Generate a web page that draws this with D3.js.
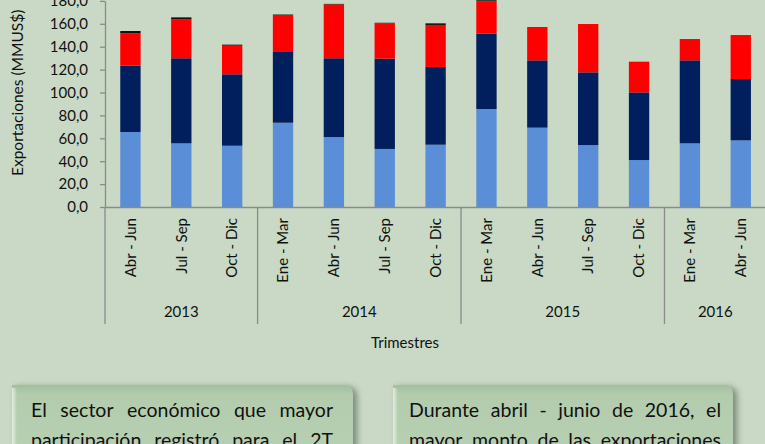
<!DOCTYPE html>
<html><head><meta charset="utf-8">
<script src="https://cdn.jsdelivr.net/npm/d3@7"></script>
<style>html,body{margin:0;padding:0;background:#C9D9C5;overflow:hidden}svg{display:block}</style>
</head><body>
<svg id="c" width="765" height="444"></svg>
<script>
const categories = ["Abr - Jun","Jul - Sep","Oct - Dic","Ene - Mar","Abr - Jun","Jul - Sep","Oct - Dic","Ene - Mar","Abr - Jun","Jul - Sep","Oct - Dic","Ene - Mar","Abr - Jun"];
const yearLabels = ["2013","2014","2015","2016"];
const yearCounts = [3,4,4,2];
const seriesA = [65.5,55.6,53.5,73.6,61.1,50.7,54.4,85.6,69.3,54.1,41.0,55.6,58.2];
const seriesB = [57.9,74.3,62.4,61.8,68.8,78.9,67.9,65.8,58.8,63.5,59.1,72.5,53.6];
const seriesC = [28.3,34.0,25.0,32.3,47.0,30.8,36.7,28.2,29.1,42.2,26.8,18.6,38.4];
const seriesD = [2.0,1.7,0.9,0.4,0.5,0.5,1.4,1.0,0,0,0,0,0];
const yTicks = [0,20,40,60,80,100,120,140,160,180];
const yTitle = "Exportaciones (MMUS$)";
const xTitle = "Trimestres";
const box1Lines = ["El sector económico que mayor","participación registró para el 2T"];
const box2Lines = ["Durante abril - junio de 2016, el","mayor monto de las exportaciones"];

const colors = ["#5A8ED6","#001F5C","#FF0000","#111111"];
const font = "Lato, 'Open Sans', sans-serif";
const svg = d3.select("#c");
const W = 765, H = 444;
svg.append("rect").attr("width",W).attr("height",H).attr("fill","#C9D9C5");

const plotLeft = 105, plotRight = 766.2, plotBase = 207, plotTop = 0.9;
const x = d3.scaleBand().domain(d3.range(categories.length)).range([plotLeft,plotRight]).paddingInner(0.6).paddingOuter(0.3);
const y = d3.scaleLinear().domain([0,180]).range([plotBase, plotTop]);

const rows = categories.map((c,i)=>({i, a:seriesA[i], b:seriesB[i], c:seriesC[i], d:seriesD[i]}));
const stack = d3.stack().keys(["a","b","c","d"])(rows);
const loc = d3.formatLocale({decimal:",", thousands:".", grouping:[3], currency:["","$"]});
const fmt = loc.format(".1f");

const g = svg.append("g");
stack.forEach((layer,k)=>{
  g.append("g").selectAll("rect").data(layer).join("rect")
    .attr("x", d=>x(d.data.i)).attr("width", x.bandwidth())
    .attr("y", d=>y(d[1])).attr("height", d=>Math.max(0, y(d[0])-y(d[1])))
    .attr("fill", colors[k]);
});

// y axis
const axisColor = "#8A8A8A";
const yAxis = d3.axisLeft(y).tickValues(yTicks).tickFormat(fmt).tickSize(5).tickSizeOuter(0);
const ya = svg.append("g").attr("transform",`translate(${plotLeft},0)`).call(yAxis);
ya.select(".domain").attr("stroke",axisColor).attr("stroke-width",1.3);
ya.selectAll(".tick line").attr("stroke",axisColor).attr("stroke-width",1.3);
ya.selectAll(".tick text").attr("font-family",font).attr("font-size",15).attr("fill","#111").attr("x",-17);

// x axis line
const xa = svg.append("g").attr("transform",`translate(0,${plotBase})`)
  .call(d3.axisBottom(x).tickSize(0).tickFormat(i=>categories[i]));
xa.select(".domain").attr("stroke",axisColor).attr("stroke-width",1.3);
xa.selectAll(".tick text").attr("font-family",font).attr("font-size",15).attr("fill","#111")
  .attr("transform","rotate(-90)").attr("text-anchor","end").attr("x",-11).attr("y",0).attr("dy","0.35em");

// group separators and year labels
let start = 0;
const sepX = [plotLeft];
yearLabels.forEach((yr,j)=>{
  const end = start + yearCounts[j];
  const x0 = x(start) - x.step()*x.paddingInner()/2;
  const x1 = x(end-1) + x.bandwidth() + x.step()*x.paddingInner()/2;
  sepX.push(x1);
  svg.append("text").attr("x",(x0+x1)/2).attr("y",312).attr("dy","0.35em")
    .attr("text-anchor","middle").attr("font-family",font).attr("font-size",15).attr("fill","#111").text(yr);
  start = end;
});
svg.selectAll("line.sep").data(sepX).join("line").attr("class","sep")
  .attr("x1",d=>d).attr("x2",d=>d).attr("y1",plotBase).attr("y2",324)
  .attr("stroke",axisColor).attr("stroke-width",1.3);

// titles
svg.append("text").attr("transform","translate(23,176) rotate(-90)").attr("text-anchor","start")
  .attr("font-family",font).attr("font-size",15.5).attr("fill","#111").text(yTitle);
svg.append("text").attr("x",405).attr("y",343).attr("dy","0.35em").attr("text-anchor","middle")
  .attr("font-family",font).attr("font-size",15).attr("fill","#111").text(xTitle);

// boxes
const defs = svg.append("defs");
const grad = defs.append("linearGradient").attr("id","bg").attr("x1",0).attr("y1",0).attr("x2",0).attr("y2",1);
grad.append("stop").attr("offset","0").attr("stop-color","#A3BF9E");
grad.append("stop").attr("offset","0.12").attr("stop-color","#B3CCAE");
grad.append("stop").attr("offset","1").attr("stop-color","#B8D0B3");
const hg = defs.append("linearGradient").attr("id","hg").attr("x1",0).attr("y1",0).attr("x2",1).attr("y2",0);
hg.append("stop").attr("offset","0").attr("stop-color","#EAF2E8").attr("stop-opacity",0.9);
hg.append("stop").attr("offset","1").attr("stop-color","#EAF2E8").attr("stop-opacity",0);
const f = defs.append("filter").attr("id","sh").attr("x","-10%").attr("y","-30%").attr("width","130%").attr("height","160%");
f.append("feGaussianBlur").attr("stdDeviation",3);

function box(x0,x1,y0,lines,tx0,tx1){
  const r = 9, yb = 470;
  const p = `M${x0},${yb} L${x0},${y0} L${x1-r},${y0} Q${x1},${y0} ${x1},${y0+r} L${x1},${yb} Z`;
  svg.append("path").attr("d",p).attr("fill","#3E4A3C").attr("opacity",0.55)
    .attr("transform","translate(4,2)").attr("filter","url(#sh)");
  svg.append("path").attr("d",p).attr("fill","url(#bg)");
  svg.append("rect").attr("x",x0).attr("y",y0+3).attr("width",5).attr("height",yb-y0).attr("fill","url(#hg)");
  lines.forEach((ln,li)=>{
    const words = ln.split(" ");
    const gl = svg.append("g");
    const ts = words.map(w=>gl.append("text").attr("font-family",font).attr("font-size",19.5).attr("fill","#111").text(w));
    const widths = ts.map(t=>t.node().getComputedTextLength());
    const total = d3.sum(widths);
    const gap = (tx1-tx0-total)/(words.length-1);
    let cx = tx0;
    ts.forEach((t,k)=>{ t.attr("x",cx).attr("y",417+li*30); cx += widths[k]+gap; });
  });
}
box(12,353,385,box1Lines,31,333);
box(393,733,385,box2Lines,409,721);
</script>
</body></html>
